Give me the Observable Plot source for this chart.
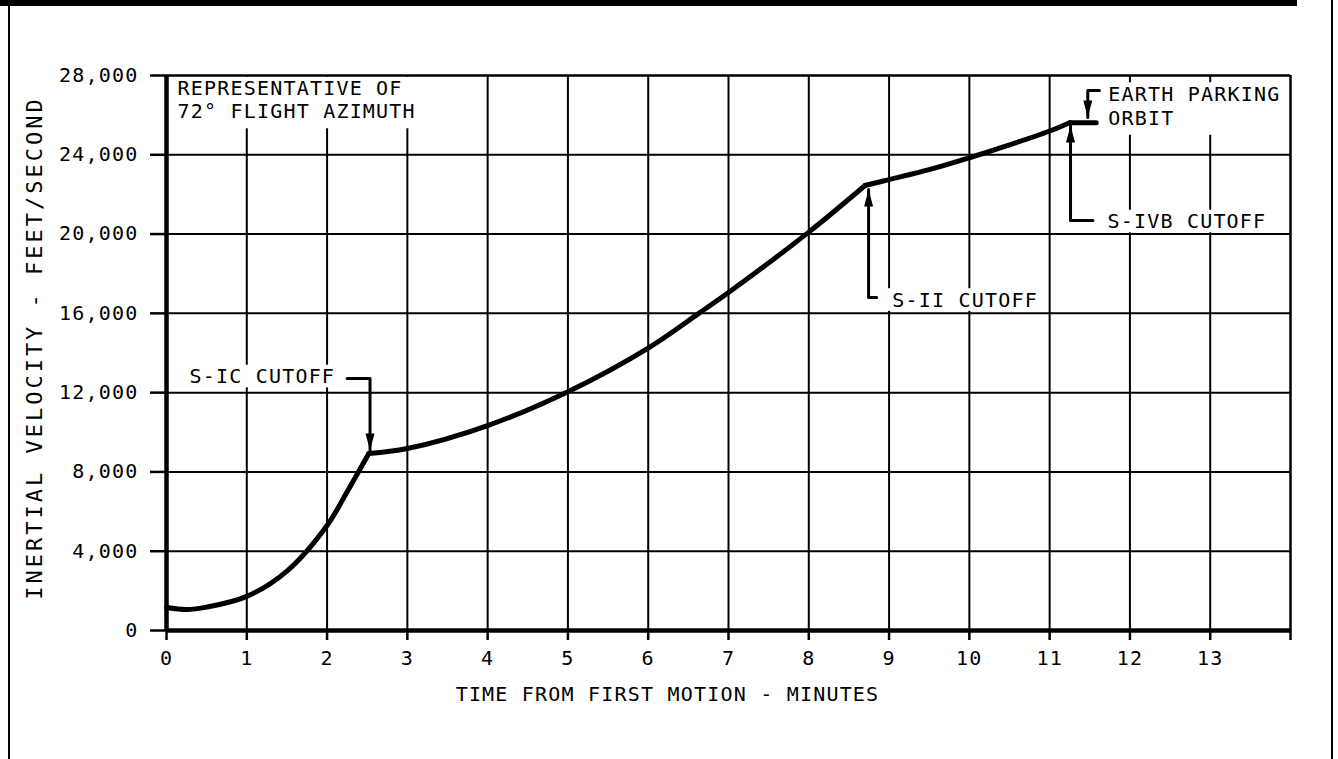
<!DOCTYPE html>
<html><head><meta charset="utf-8">
<script src="https://cdn.jsdelivr.net/npm/d3@7"></script>
<script src="https://cdn.jsdelivr.net/npm/@observablehq/plot@0.6"></script>
<style>
html,body{margin:0;padding:0;background:#fff;}
#wrap{position:relative;width:1338px;height:759px;overflow:hidden;background:#fff;}
.band{position:absolute;left:0;top:0;width:1297px;height:6px;background:#000;}
.lb{position:absolute;left:8px;top:0;width:2px;height:759px;background:#000;}
.rb{position:absolute;left:1331px;top:0;width:2px;height:759px;background:#000;}
#chart{position:absolute;left:0;top:0;}
</style></head><body>
<div id="wrap"><div id="chart"></div><div class="band"></div><div class="lb"></div><div class="rb"></div></div>
<script>
// ---- data ----
const sicTime      = [0, 0.25, 0.5, 1.0, 1.5, 2.0, 2.25, 2.52];
const sicVelocity  = [1160, 1060, 1180, 1720, 3000, 5300, 7000, 8930];
const siiTime      = [2.52, 3, 4, 5, 6, 6.63, 7, 8, 8.7];
const siiVelocity  = [8930, 9180, 10340, 12050, 14250, 16000, 17050, 20100, 22450];
const sivbTime     = [8.7, 9, 9.5, 10, 10.5, 11, 11.25];
const sivbVelocity = [22450, 22750, 23250, 23850, 24500, 25200, 25620];
const orbitTime    = [11.25, 11.58];
const orbitVelocity= [25620, 25620];

const xTickValues = [0,1,2,3,4,5,6,7,8,9,10,11,12,13,14];
const xTickLabels = ["0","1","2","3","4","5","6","7","8","9","10","11","12","13",""];
const yTickValues = [0,4000,8000,12000,16000,20000,24000,28000];
const yTickLabels = ["0","4,000","8,000","12,000","16,000","20,000","24,000","28,000"];

const noteText = ["REPRESENTATIVE OF\n72° FLIGHT AZIMUTH","S-IC CUTOFF","S-II CUTOFF","S-IVB CUTOFF","EARTH PARKING\nORBIT"];
const noteX    = [0.137, 0.286, 9.04, 11.72, 11.73];
const noteY    = [26815, 12865, 16724, 20685, 26512];
const noteLineHeight = [1.15, 1.2, 1.2, 1.2, 1.2];

// leader lines (callouts) and arrow tips
const leaderId = ["sic","sic","sic","sii","sii","sii","sivb","sivb","sivb","epo","epo","epo"];
const leaderX  = [2.25, 2.535, 2.535, 8.845, 8.745, 8.745, 11.54, 11.26, 11.26, 11.62, 11.475, 11.475];
const leaderY  = [12710, 12710, 9080, 16800, 16800, 22250, 20680, 20680, 25480, 27240, 27240, 25880];
const tipUpX   = [8.745, 11.26];
const tipUpY   = [22250, 25480];
const tipDownX = [2.535, 11.475];
const tipDownY = [9080, 25880];

// ---- build tables ----
const W = 1338, H = 759, ML = 166, MR = 48, MT = 75, MB = 129;
const XMAX = 14, YMAX = 28000;
const pxPerX = (W - ML - MR) / XMAX, pxPerY = (H - MT - MB) / YMAX;
const FONT = 20, ADV = FONT * 0.602 + 1.2;

const curve = [
  ...sicTime.map((t,i)=>({t, v: sicVelocity[i], stage:"S-IC"})),
  ...siiTime.map((t,i)=>({t, v: siiVelocity[i], stage:"S-II"})),
  ...sivbTime.map((t,i)=>({t, v: sivbVelocity[i], stage:"S-IVB"})),
  ...orbitTime.map((t,i)=>({t, v: orbitVelocity[i], stage:"Orbit"}))
];
const notes = noteText.map((text,i)=>({text, x: noteX[i], y: noteY[i], lh: noteLineHeight[i]}));
// white knock-out boxes behind the callouts (the original breaks the grid there)
const knock = notes.map(n => {
  const lines = n.text.split("\n");
  const wpx = d3.max(lines, l => l.length) * ADV;
  const half = ((lines.length - 1) * n.lh * FONT + 0.73 * FONT) / 2 + 4;
  const extraBottom = lines.length > 1 ? 6 : 0;
  return {x1: n.x - 6 / pxPerX, x2: n.x + (wpx + 4) / pxPerX,
          y1: n.y - (half + 1 + extraBottom) / pxPerY, y2: n.y + (half - 1) / pxPerY};
});
const leaders = leaderId.map((id,i)=>({id, x: leaderX[i], y: leaderY[i]}));
const upTips = tipUpX.map((x,i)=>({x, y: tipUpY[i]}));
const downTips = tipDownX.map((x,i)=>({x, y: tipDownY[i]}));
const xLab = new Map(xTickValues.map((d,i)=>[d, xTickLabels[i]]));
const yLab = new Map(yTickValues.map((d,i)=>[d, yTickLabels[i]]));

const arrowUp = {draw(ctx){ ctx.moveTo(0,0); ctx.lineTo(-4.5,17); ctx.lineTo(4.5,17); ctx.closePath(); }};
const arrowDown = {draw(ctx){ ctx.moveTo(0,0); ctx.lineTo(-4.5,-17); ctx.lineTo(4.5,-17); ctx.closePath(); }};

const noteMarks = [...new Set(noteLineHeight)].map(lh =>
  Plot.text(notes.filter(n => n.lh === lh), {x: "x", y: "y", text: "text", textAnchor: "start", lineAnchor: "middle", lineHeight: lh, fill: "black"}));

const chart = Plot.plot({
  width: W, height: H,
  marginLeft: ML, marginRight: MR, marginTop: MT, marginBottom: MB,
  x: {domain: [0, XMAX]},
  y: {domain: [0, YMAX]},
  style: {fontFamily: "'DejaVu Sans Mono', monospace", fontSize: FONT + "px", letterSpacing: "1.2px", color: "black", background: "transparent", overflow: "visible"},
  marks: [
    Plot.ruleX(xTickValues.filter(d => d > 0 && d < XMAX), {y1: 0, y2: YMAX, stroke: "black", strokeWidth: 2}),
    Plot.ruleY(yTickValues.filter(d => d > 0 && d < YMAX), {x1: 0, x2: XMAX, stroke: "black", strokeWidth: 2}),
    Plot.rect(knock, {x1: "x1", x2: "x2", y1: "y1", y2: "y2", fill: "white"}),
    Plot.ruleY([YMAX], {x1: 0, x2: XMAX, stroke: "black", strokeWidth: 2.5}),
    Plot.ruleX([XMAX], {y1: 0, y2: YMAX, stroke: "black", strokeWidth: 2.5}),
    Plot.axisX({ticks: xTickValues, tickFormat: d => xLab.get(d), tickSize: 10, tickPadding: 10, strokeWidth: 2.5, label: null}),
    Plot.axisY({ticks: yTickValues, tickFormat: d => yLab.get(d), tickSize: 16, tickPadding: 12, strokeWidth: 2.5, label: null}),
    Plot.ruleX([0], {y1: 0, y2: YMAX, stroke: "black", strokeWidth: 4.5}),
    Plot.ruleY([0], {x1: 0, x2: XMAX, stroke: "black", strokeWidth: 4.5}),
    Plot.line(curve, {x: "t", y: "v", z: "stage", curve: "catmull-rom", stroke: "black", strokeWidth: 5, strokeLinejoin: "round", strokeLinecap: "round"}),
    Plot.line(leaders, {x: "x", y: "y", z: "id", stroke: "black", strokeWidth: 3}),
    Plot.dot(upTips, {x: "x", y: "y", symbol: arrowUp, fill: "black", stroke: null}),
    Plot.dot(downTips, {x: "x", y: "y", symbol: arrowDown, fill: "black", stroke: null}),
    ...noteMarks,
    Plot.text(["INERTIAL VELOCITY - FEET/SECOND"], {frameAnchor: "left", dx: -132, dy: -5, rotate: -90, textAnchor: "middle", lineAnchor: "middle", fill: "black", fontSize: 22}),
    Plot.text(["TIME FROM FIRST MOTION - MINUTES"], {frameAnchor: "bottom", dx: -61, dy: 64, textAnchor: "middle", lineAnchor: "middle", fill: "black"})
  ]
});
chart.querySelectorAll("text").forEach(t => {
  if (t.textContent === "INERTIAL VELOCITY - FEET/SECOND") t.style.letterSpacing = "3px";
});
document.getElementById("chart").appendChild(chart);
</script></body></html>
